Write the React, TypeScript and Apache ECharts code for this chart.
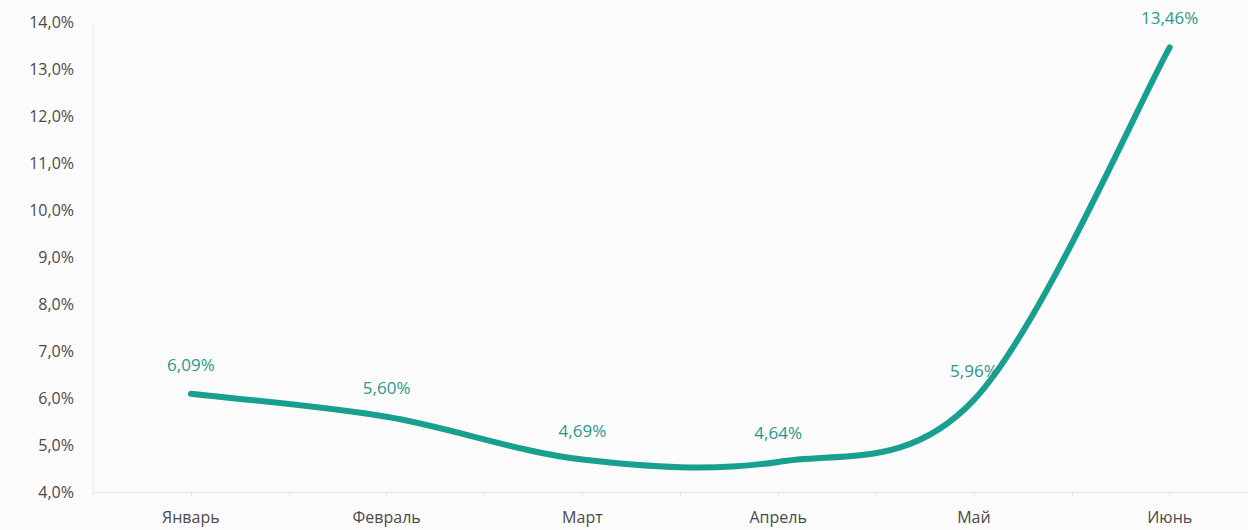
import React, { useEffect, useRef } from "react";
import * as echarts from "echarts";

const categories = ["Январь", "Февраль", "Март", "Апрель", "Май", "Июнь"];
const values = [6.09, 5.6, 4.69, 4.64, 5.96, 13.46];
const yMin = 4;
const yMax = 14;
const yStep = 1;

const fmt = (v: number, d: number) => v.toFixed(d).replace(".", ",") + "%";

const points = values.map((v, i) => [i, v]);

export default function App() {
  const ref = useRef<HTMLDivElement>(null);
  useEffect(() => {
    if (!ref.current) return;
    const chart = echarts.init(ref.current, null, { renderer: "svg" });
    const font = "'Open Sans', 'Noto Sans', sans-serif";
    chart.setOption({
      animation: false,
      backgroundColor: "#fbfbfb",
      grid: { left: 93, right: 0, top: 22, bottom: 38 },
      xAxis: {
        type: "value",
        min: -0.5,
        max: 5.4,
        interval: 0.5,
        axisLine: { show: true, onZero: false, lineStyle: { color: "#e6e6e6", width: 1 } },
        axisTick: { show: true, length: 5, lineStyle: { color: "#e6e6e6" } },
        axisLabel: {
          color: "#4a4a4a",
          fontSize: 16,
          fontFamily: font,
          margin: 17,
          showMaxLabel: false,
          formatter: (v: number) =>
            Number.isInteger(v) && v >= 0 && v < categories.length ? categories[v] : "",
        },
        splitLine: { show: false },
      },
      yAxis: {
        type: "value",
        min: yMin,
        max: yMax,
        interval: yStep,
        axisLine: { show: true, onZero: false, lineStyle: { color: "#eeeeee" } },
        axisTick: { show: false },
        splitLine: { show: false },
        axisLabel: {
          color: "#4a4a4a",
          fontSize: 16,
          fontFamily: font,
          margin: 19,
          formatter: (v: number) => fmt(v, 1),
        },
      },
      series: [
        {
          type: "custom",
          data: points,
          encode: { x: 0, y: 1 },
          silent: true,
          z: 2,
          renderItem: (params: any, api: any) => {
            if (params.dataIndex !== 0) return null;
            const pts = points.map((p) => api.coord(p));
            const n = pts.length;
            let d = `M${pts[0][0]},${pts[0][1]}`;
            for (let i = 0; i < n - 1; i++) {
              const p0 = pts[Math.max(i - 1, 0)];
              const p1 = pts[i];
              const p2 = pts[i + 1];
              const p3 = pts[Math.min(i + 2, n - 1)];
              const c1x = p1[0] + (p2[0] - p0[0]) / 6;
              const c1y = p1[1] + (p2[1] - p0[1]) / 6;
              const c2x = p2[0] - (p3[0] - p1[0]) / 6;
              const c2y = p2[1] - (p3[1] - p1[1]) / 6;
              d += ` C${c1x},${c1y} ${c2x},${c2y} ${p2[0]},${p2[1]}`;
            }
            return {
              type: "path",
              shape: { pathData: d },
              style: {
                fill: "none",
                stroke: "#17a08f",
                lineWidth: 6,
                lineCap: "round",
                lineJoin: "round",
              },
            };
          },
        },
        {
          type: "scatter",
          data: points,
          symbol: "circle",
          symbolSize: 2,
          itemStyle: { color: "rgba(0,0,0,0)", opacity: 1 },
          silent: true,
          z: 3,
          label: {
            show: true,
            position: "top",
            distance: 20,
            color: "#2b978b",
            opacity: 1,
            fontSize: 17,
            fontFamily: font,
            formatter: (p: any) => fmt(p.value[1], 2),
          },
        },
      ],
    });
    return () => chart.dispose();
  }, []);
  return (
    <div
      ref={ref}
      style={{ position: "fixed", left: 0, top: 0, width: 1248, height: 530 }}
    />
  );
}
